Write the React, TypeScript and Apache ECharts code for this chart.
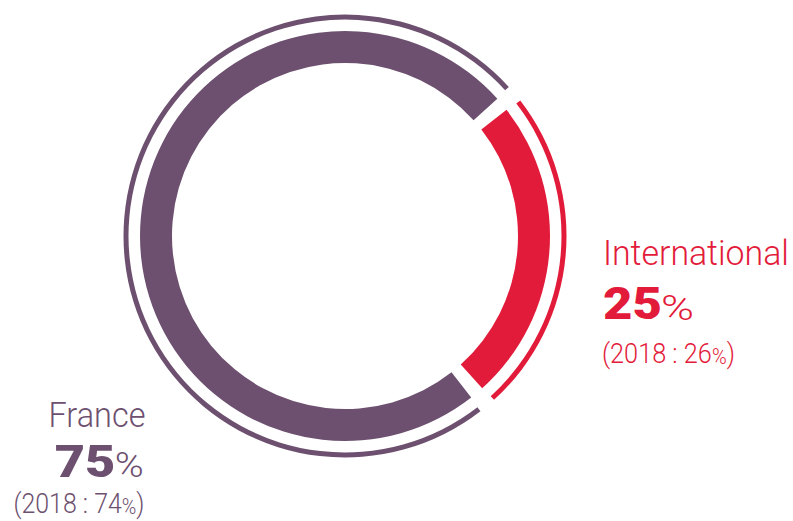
import React, { useEffect, useRef } from "react";
import * as echarts from "echarts";

// ---- data ----
const categories = ["International", "France"];
const shares = [25, 75];
const previousYear = "2018";
const previousShares = [26, 74];
const colors = ["#E31B3A", "#6D506F"];

// ---- layout ----
const W = 793;
const H = 521;
const CENTER = [345, 236];
const FONT = "Roboto";
const CENTRAL = 0.342;

type Seg = { text: string; size: number; weight: number };
type Box = { x: number; baseline: number; width: number };

const labelLayout: { name: Box; value: Box; pct: Box; prev: Box }[] = [
  {
    name: { x: 603, baseline: 264.3, width: 186 },
    value: { x: 603, baseline: 319.3, width: 59 },
    pct: { x: 661, baseline: 320.3, width: 33 },
    prev: { x: 602, baseline: 363.3, width: 133 },
  },
  {
    name: { x: 48.5, baseline: 426.7, width: 97 },
    value: { x: 54.7, baseline: 476.7, width: 60.6 },
    pct: { x: 114.7, baseline: 477, width: 29 },
    prev: { x: 13.5, baseline: 513.6, width: 131 },
  },
];

function makeMeasurer() {
  const canvas = document.createElement("canvas");
  const ctx = canvas.getContext("2d") as CanvasRenderingContext2D;
  return (s: Seg) => {
    ctx.font = `${s.weight} ${s.size}px ${FONT}`;
    return ctx.measureText(s.text).width;
  };
}

function lineElements(box: Box, segs: Seg[], color: string, measure: (s: Seg) => number) {
  const widths = segs.map(measure);
  const total = widths.reduce((a, b) => a + b, 0);
  const k = total > 0 ? box.width / total : 1;
  let cx = box.x;
  return segs.map((s, i) => {
    const el = {
      type: "text",
      x: cx,
      y: box.baseline - CENTRAL * s.size,
      scaleX: k,
      silent: true,
      style: {
        text: s.text,
        fontFamily: FONT,
        fontSize: s.size,
        fontWeight: s.weight,
        fill: color,
        align: "left",
        verticalAlign: "middle",
      },
    };
    cx += widths[i] * k;
    return el;
  });
}

export default function App() {
  const ref = useRef<HTMLDivElement>(null);

  useEffect(() => {
    document.body.style.margin = "0";
    document.body.style.overflow = "hidden";
    if (!ref.current) return;
    const chart = echarts.init(ref.current, undefined, { renderer: "svg" });
    const measure = makeMeasurer();

    const data = categories.map((name, i) => ({
      name,
      value: shares[i],
      itemStyle: { color: colors[i] },
    }));

    const graphics: any[] = [];
    categories.forEach((name, i) => {
      const L = labelLayout[i];
      const c = colors[i];
      graphics.push(...lineElements(L.name, [{ text: name, size: 35, weight: 300 }], c, measure));
      graphics.push(...lineElements(L.value, [{ text: String(shares[i]), size: 45, weight: 900 }], c, measure));
      graphics.push(...lineElements(L.pct, [{ text: "%", size: 36, weight: 300 }], c, measure));
      graphics.push(
        ...lineElements(
          L.prev,
          [
            { text: `(${previousYear} : ${previousShares[i]}`, size: 28.5, weight: 300 },
            { text: "%", size: 22.5, weight: 300 },
            { text: ")", size: 28.5, weight: 300 },
          ],
          c,
          measure
        )
      );
    });

    const common = {
      type: "pie",
      center: CENTER,
      startAngle: 40,
      clockwise: true,
      silent: true,
      label: { show: false },
      labelLine: { show: false },
      emphasis: { disabled: true },
      data,
    };

    chart.setOption({
      animation: false,
      backgroundColor: "#ffffff",
      series: [
        { ...common, name: "main", radius: [173, 205], padAngle: 4 },
        { ...common, name: "outer", radius: [216.5, 221.5], padAngle: 4.6 },
      ],
      graphic: { elements: graphics },
    });

    return () => chart.dispose();
  }, []);

  return <div ref={ref} style={{ width: W, height: H }} />;
}
